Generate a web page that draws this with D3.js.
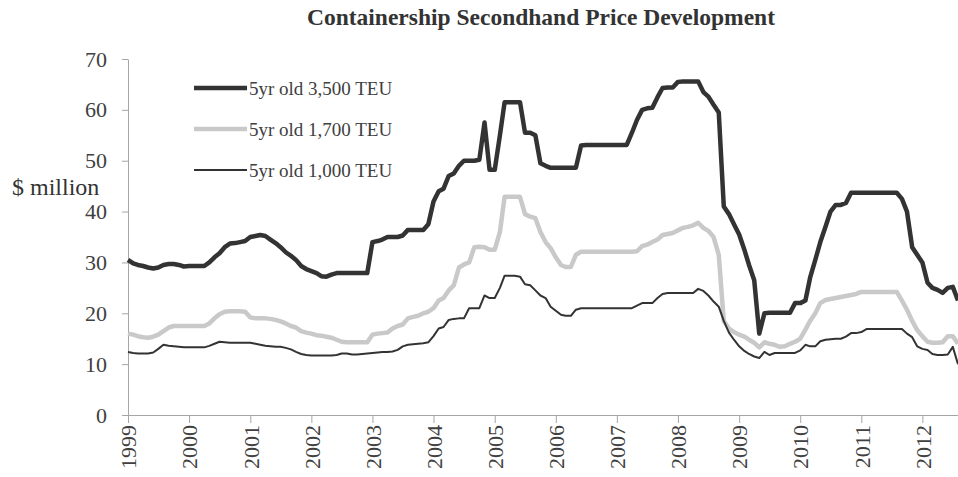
<!doctype html>
<html lang="en">
  <head>
    <meta charset="utf-8">
    <script src="https://cdn.jsdelivr.net/npm/d3@7"></script>
    <style>
      body {margin:0; background:#fff}
      svg {display:block}
      text {font-family:"Liberation Serif", "Times New Roman", Times, serif; fill:#333}
      .axis path, .axis line {stroke:#a6a6a6}
      .axis text {font-size:22px; fill:#404040}
      #title {font-size:23.5px; font-weight:bold}
      .legend text {font-size:19px; fill:#404040}
    </style>
    <title>Containership Secondhand Price Development</title>
  </head>
  <body>
    <script>
      // monthly prices, $ million, Jan 1999 - Aug 2012
      let firstMonth = new Date(1999, 0, 1);
      let endMonth = new Date(2012, 8, 1);

      let teu3500 = [
        30.5, 29.8, 29.5, 29.3, 29.0, 28.8, 29.0, 29.5, 29.7, 29.7, 29.5, 29.2,
        29.3, 29.3, 29.3, 29.3, 30.0, 31.0, 31.8, 33.0, 33.7, 33.8, 34.0, 34.2,
        35.0, 35.2, 35.4, 35.2, 34.5, 33.8, 33.0, 32.0, 31.3, 30.5, 29.3, 28.7,
        28.3, 27.9, 27.3, 27.2, 27.6, 27.9, 27.9, 27.9, 27.9, 27.9, 27.9, 27.9,
        34.0, 34.2, 34.5, 35.0, 35.0, 35.0, 35.3, 36.4, 36.4, 36.4, 36.4, 37.5,
        42.0, 44.0, 44.5, 47.0, 47.5, 49.0, 50.0, 50.0, 50.0, 50.2, 57.5, 48.2,
        48.2, 55.0, 61.5, 61.5, 61.5, 61.5, 55.5, 55.5, 55.0, 49.5, 49.0, 48.6,
        48.6, 48.6, 48.6, 48.6, 48.6, 53.0, 53.1, 53.1, 53.1, 53.1, 53.1, 53.1,
        53.1, 53.1, 53.1, 55.5, 58.0, 60.0, 60.3, 60.4, 62.5, 64.3, 64.4, 64.4,
        65.5, 65.6, 65.6, 65.6, 65.6, 63.5, 62.6, 61.0, 59.5, 41.0, 39.5, 37.5,
        35.5, 32.5, 29.5, 26.5, 16.0, 20.0, 20.1, 20.1, 20.1, 20.1, 20.1, 22.0,
        22.0, 22.5, 27.0, 30.5, 34.0, 37.0, 40.0, 41.3, 41.3, 41.7, 43.7, 43.7,
        43.7, 43.7, 43.7, 43.7, 43.7, 43.7, 43.7, 43.7, 42.5, 40.0, 33.0, 31.5,
        30.0, 26.0, 25.0, 24.6, 24.0, 25.0, 25.2, 22.5
      ];

      let teu1700 = [
        16.0, 15.8, 15.5, 15.3, 15.2, 15.4, 15.8, 16.5, 17.2, 17.5, 17.5, 17.5,
        17.5, 17.5, 17.5, 17.5, 18.0, 19.0, 19.8, 20.3, 20.4, 20.4, 20.4, 20.3,
        19.2, 19.0, 19.0, 19.0, 18.9, 18.7, 18.4, 18.0, 17.5, 17.2, 16.5, 16.2,
        16.0, 15.7, 15.6, 15.4, 15.2, 14.8, 14.4, 14.3, 14.3, 14.3, 14.3, 14.3,
        15.8, 16.0, 16.1, 16.2, 17.0, 17.5, 17.8, 19.0, 19.3, 19.5, 20.0, 20.3,
        21.0, 22.5, 23.0, 24.5, 25.5, 29.0, 29.6, 30.0, 33.0, 33.1, 33.0, 32.5,
        32.5, 36.0, 42.9, 42.9, 42.9, 42.9, 39.5, 39.0, 38.7, 36.0, 34.0, 32.8,
        31.0, 29.5, 29.1, 29.1, 31.5, 32.1, 32.1, 32.1, 32.1, 32.1, 32.1, 32.1,
        32.1, 32.1, 32.1, 32.1, 32.2, 33.2, 33.5, 34.0, 34.5, 35.4, 35.6, 35.8,
        36.3, 36.8, 37.0, 37.3, 37.8, 36.8, 36.2, 35.0, 31.5, 18.5, 17.0, 16.3,
        15.8, 15.4, 14.8, 14.2, 13.3, 14.3, 14.0, 13.8, 13.4, 13.5, 14.0, 14.4,
        15.0, 16.8, 18.5, 20.0, 22.0, 22.6, 22.8, 23.0, 23.2, 23.4, 23.6, 23.8,
        24.2, 24.2, 24.2, 24.2, 24.2, 24.2, 24.2, 24.2, 22.5, 20.7, 18.5, 16.7,
        15.5, 14.4, 14.2, 14.2, 14.3, 15.5, 15.5, 14.0
      ];

      let teu1000 = [
        12.4, 12.2, 12.1, 12.1, 12.1, 12.3, 13.0, 13.8, 13.6, 13.5, 13.4, 13.3,
        13.3, 13.3, 13.3, 13.3, 13.6, 14.0, 14.4, 14.3, 14.2, 14.2, 14.2, 14.2,
        14.2, 14.0, 13.8, 13.6, 13.5, 13.4, 13.4, 13.2, 12.9, 12.4, 12.0, 11.8,
        11.7, 11.7, 11.7, 11.7, 11.7, 11.8, 12.1, 12.1, 11.9, 11.9, 12.0, 12.1,
        12.2, 12.3, 12.4, 12.4, 12.5, 12.8, 13.5, 13.8, 13.9, 14.0, 14.1, 14.3,
        15.5, 17.0, 17.3, 18.7, 18.9, 19.0, 19.0, 21.0, 21.0, 21.0, 23.5, 23.0,
        23.0, 25.0, 27.4, 27.4, 27.4, 27.2, 25.7, 25.5, 24.5, 23.5, 23.0, 21.3,
        20.5, 19.7, 19.5, 19.5, 20.7, 21.0, 21.0, 21.0, 21.0, 21.0, 21.0, 21.0,
        21.0, 21.0, 21.0, 21.0, 21.5, 22.0, 22.0, 22.0, 23.0, 23.8, 24.0, 24.0,
        24.0, 24.0, 24.0, 24.0, 24.8, 24.4, 23.5, 22.3, 21.3, 18.5, 16.2, 14.8,
        13.5, 12.6, 12.0, 11.5, 11.2, 12.4, 11.8, 12.2, 12.2, 12.2, 12.2, 12.2,
        12.7, 13.8, 13.5, 13.5, 14.5, 14.8, 14.9, 15.0, 15.0, 15.4, 16.1, 16.1,
        16.3, 16.9, 16.9, 16.9, 16.9, 16.9, 16.9, 16.9, 16.9, 16.0, 15.3, 13.5,
        13.0, 12.8, 12.0, 11.8, 11.8, 11.9, 13.4, 10.0
      ];

      let seriesNames = ["5yr old 3,500 TEU", "5yr old 1,700 TEU", "5yr old 1,000 TEU"];
      let yTicks = [0, 10, 20, 30, 40, 50, 60, 70];

      let months = d3.timeMonth.range(firstMonth, endMonth);

      let series = [
        {name: seriesNames[0], values: teu3500, color: "#333333", width: 4.5},
        {name: seriesNames[1], values: teu1700, color: "#c9c9c9", width: 4.5},
        {name: seriesNames[2], values: teu1000, color: "#333333", width: 2}
      ];

      let margin = {top:59, left:128, right:0, bottom:62};
      let w = 958 - margin.left - margin.right;
      let h = 477 - margin.top - margin.bottom;

      let xScaling = d3.scaleTime()
        .domain([months[0], months[months.length - 1]])
        .range([0, w]);

      let yScaling = d3.scaleLinear()
        .domain([0, 70])
        .range([h, 0]);

      let svg = d3.select("body").append("svg")
        .attr("width", 958)
        .attr("height", 477);

      svg.append("text")
        .attr("id", "title")
        .attr("x", 541)
        .attr("y", 25)
        .attr("text-anchor", "middle")
        .text("Containership Secondhand Price Development");

      let canvas = svg.append("g")
        .attr("transform", "translate(" + margin.left + "," + margin.top + ")");

      let xAxis = d3.axisBottom(xScaling)
        .ticks(d3.timeYear.every(1))
        .tickFormat(d3.timeFormat("%Y"))
        .tickSizeInner(8)
        .tickSizeOuter(0);

      let yAxis = d3.axisLeft(yScaling)
        .tickValues(yTicks)
        .tickSizeInner(6)
        .tickSizeOuter(0)
        .tickPadding(15);

      canvas.append("g")
        .attr("class", "axis")
        .attr("id", "y-axis")
        .call(yAxis);

      canvas.append("g")
        .attr("class", "axis")
        .attr("id", "x-axis")
        .attr("transform", "translate(0," + h + ")")
        .call(xAxis)
        .selectAll("text")
        .attr("transform", "rotate(-90)")
        .attr("text-anchor", "end")
        .attr("x", -10)
        .attr("y", 0)
        .attr("dy", "0.35em");

      svg.append("text")
        .attr("x", 12)
        .attr("y", 195)
        .attr("font-size", "24px")
        .attr("fill", "#404040")
        .text("$ million");

      let line = d3.line()
        .x((d, i) => xScaling(months[i]))
        .y((d) => yScaling(d));

      canvas.selectAll(".series")
        .data(series)
        .enter()
        .append("path")
        .attr("class", "series")
        .attr("fill", "none")
        .attr("stroke", (d) => d.color)
        .attr("stroke-width", (d) => d.width)
        .attr("stroke-linejoin", "round")
        .attr("d", (d) => line(d.values));

      // legend top left inside the plot
      let legend = svg.append("g")
        .attr("class", "legend")
        .selectAll("g")
        .data(series)
        .enter()
        .append("g")
        .attr("transform", (d, i) => "translate(194," + (88 + i * 41) + ")");

      legend.append("line")
        .attr("x1", 0)
        .attr("x2", 53)
        .attr("stroke", (d) => d.color)
        .attr("stroke-width", (d) => d.width);

      legend.append("text")
        .attr("x", 55)
        .attr("dy", "0.35em")
        .text((d) => d.name);
    </script>
  </body>
</html>
